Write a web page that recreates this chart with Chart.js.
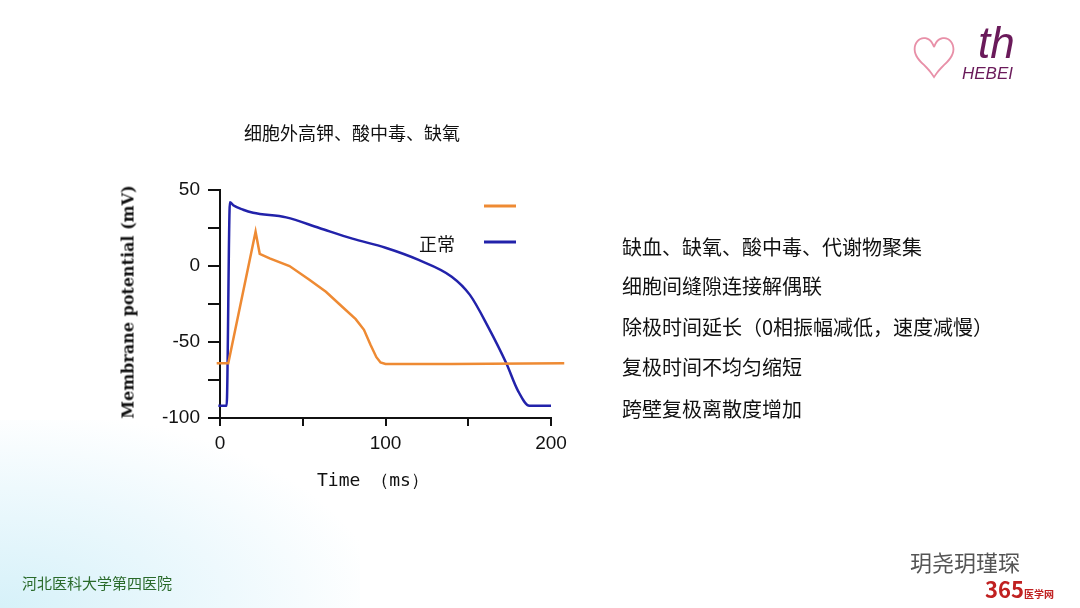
<!DOCTYPE html><html><head><meta charset="utf-8">
<script src="https://cdn.jsdelivr.net/npm/chart.js@4/dist/chart.umd.min.js"></script>
<style>
body{margin:0;width:1080px;height:608px;overflow:hidden;background:#fff;font-family:"Noto Sans CJK SC",sans-serif;position:relative}
#bg{position:absolute;left:0;top:420px;width:360px;height:188px;background:radial-gradient(ellipse at 0% 100%,#d6f1f9 0%,#eef9fd 45%,rgba(255,255,255,0) 75%)}
canvas{position:absolute;left:0;top:0}
.t{position:absolute;color:#111}
.r{position:absolute;left:622px;font-size:20px;color:#111}
</style></head><body>
<div id="bg"></div>
<canvas id="c" width="1080" height="608"></canvas>
<div class="t" style="left:244px;top:119px;font-size:18px">细胞外高钾、酸中毒、缺氧</div>
<div class="t" style="left:419px;top:230px;font-size:18px">正常</div>
<div class="t" style="left:317px;top:468px;font-size:18px;font-family:'DejaVu Sans Mono',monospace">Time （ms）</div>
<div class="t" style="left:128px;top:302px;font-size:16px;font-weight:bold;font-family:'DejaVu Serif',serif;transform:translate(-50%,-50%) rotate(-90deg);white-space:nowrap">Membrane potential (mV)</div>
<div class="r" style="top:232px">缺血、缺氧、酸中毒、代谢物聚集</div>
<div class="r" style="top:271px">细胞间缝隙连接解偶联</div>
<div class="r" style="top:312px">除极时间延长（0相振幅减低，速度减慢）</div>
<div class="r" style="top:352px">复极时间不均匀缩短</div>
<div class="r" style="top:394px">跨壁复极离散度增加</div>
<div class="t" style="left:910px;top:20px;font-size:48px;color:#e890a8">♡</div>
<div class="t" style="left:978px;top:18px;font-size:44px;font-style:italic;color:#6a1a5a;font-family:'Liberation Sans'">th</div>
<div class="t" style="left:962px;top:64px;font-size:17px;font-style:italic;color:#6a1a5a;font-family:'Liberation Sans'">HEBEI</div>
<div class="t" style="left:22px;top:572px;font-size:15px;color:#2a6a2a">河北医科大学第四医院</div>
<div class="t" style="left:910px;top:545px;font-size:22px;color:#555">玥尧玥瑾琛</div>
<div class="t" style="left:985px;top:572px;font-size:22px;font-weight:bold;color:#c02020">365<span style="font-size:10px">医学网</span></div>
<script>
const blueX=[-1,4,6,8,14,20,40,60,80,100,120,140,151,162,173,180,187,200];
const blueY=[-92,-92,42,40,37,35,32,25,18,12,4,-7,-19,-40,-64,-82,-92,-92];
const orangeX=[-2,5,21.5,24,30,42,54,64,74,82,87,91,94.5,97,100,140,208];
const orangeY=[-64,-64,22.5,8,5,0,-9,-17,-27,-35,-42,-52,-60,-63.5,-64.5,-64.5,-64];
const xTicks=[0,50,100,150,200], xLabels={0:'0',100:'100',200:'200'};
const yLabels={50:'50',0:'0','-50':'-50','-100':'-100'};
const pts=(xs,ys)=>xs.map((x,i)=>({x,y:ys[i]}));
const legendPlugin={id:'leg',afterDraw(ch){const c=ch.ctx;c.save();c.lineWidth=3;
[['#ee8a33',206],['#2222aa',242]].forEach(([col,y])=>{c.strokeStyle=col;c.beginPath();c.moveTo(484,y);c.lineTo(516,y);c.stroke();});c.restore();}};
new Chart(document.getElementById('c'),{type:'scatter',
data:{datasets:[
{data:pts(orangeX,orangeY),showLine:true,borderColor:'#ee8a33',borderWidth:2.5,pointRadius:0,clip:false,tension:0},
{data:pts(blueX,blueY),showLine:true,borderColor:'#2222aa',borderWidth:2.5,pointRadius:0,clip:false,cubicInterpolationMode:'monotone'}]},
plugins:[legendPlugin],
options:{animation:false,responsive:false,devicePixelRatio:1,
layout:{padding:{left:150,top:190,right:529,bottom:150}},
plugins:{legend:{display:false},tooltip:{enabled:false}},
scales:{
x:{type:'linear',min:0,max:200,afterFit:s=>{s.height=40},afterBuildTicks:s=>{s.ticks=xTicks.map(v=>({value:v}))},
 ticks:{autoSkip:false,maxRotation:0,padding:6,color:'#111',font:{size:19,family:'Liberation Sans'},callback:v=>xLabels[v]??''},
 grid:{drawOnChartArea:false,tickLength:8,color:'#111',lineWidth:2},border:{color:'#111',width:2}},
y:{min:-100,max:50,afterFit:s=>{s.width=70},ticks:{stepSize:25,autoSkip:false,padding:8,color:'#111',font:{size:19,family:'Liberation Sans'},callback:v=>yLabels[v]??''},
 grid:{drawOnChartArea:false,tickLength:12,color:'#111',lineWidth:2},border:{color:'#111',width:2}}}}});
</script></body></html>
